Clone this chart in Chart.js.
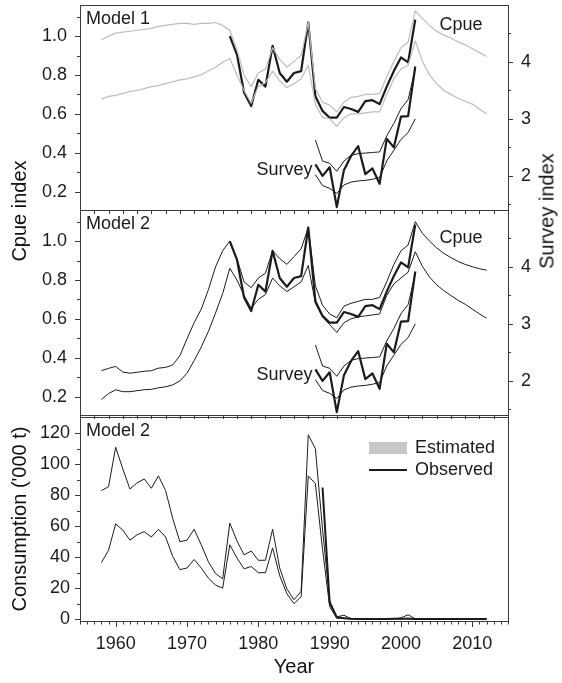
<!DOCTYPE html>
<html>
<head>
<meta charset="utf-8">
<script src="https://cdn.jsdelivr.net/npm/chart.js@4.4.0/dist/chart.umd.min.js"></script>
<style>
body { margin: 0; background: #fff; }
#wrap { position: relative; width: 562px; height: 683px; font-family: "Liberation Sans", Arial, sans-serif; color: #111; }
#wrap canvas { position: absolute; left: 0; top: 0; }
.ttl { position: absolute; font-size: 20px; white-space: nowrap; transform: translate(-50%, -50%); }
.rot { transform: translate(-50%, -50%) rotate(-90deg); }
</style>
</head>
<body>
<div id="wrap">
  <canvas id="p1" width="562" height="683"></canvas>
  <canvas id="p2" width="562" height="683"></canvas>
  <canvas id="p3" width="562" height="683"></canvas>
  <div class="ttl rot" style="left:19px;top:211px">Cpue index</div>
  <div class="ttl rot" style="left:547px;top:211px">Survey index</div>
  <div class="ttl rot" style="left:19px;top:519px">Consumption ('000 t)</div>
  <div class="ttl" style="left:294px;top:666px">Year</div>
</div>
<script>
// years of the model runs
var modelYears = [1958,1959,1960,1961,1962,1963,1964,1965,1966,1967,1968,1969,1970,1971,1972,1973,1974,1975,
  1976,1977,1978,1979,1980,1981,1982,1983,1984,1985,1986,1987,
  1988,1989,1990,1991,1992,1993,1994,1995,1996,1997,1998,1999,2000,2001,2002,
  2003,2004,2005,2006,2007,2008,2009,2010,2011,2012];
var cpueYears = [1976,1977,1978,1979,1980,1981,1982,1983,1984,1985,1986,1987,
  1988,1989,1990,1991,1992,1993,1994,1995,1996,1997,1998,1999,2000,2001,2002];
var surveyYears = [1988,1989,1990,1991,1992,1993,1994,1995,1996,1997,1998,1999,2000,2001,2002];
var consObsYears = [1989,1990,1991,1992,1993,1994,1995,1996,1997,1998,1999,2000,
  2001,2002,2003,2004,2005,2006,2007,2008,2009,2010,2011,2012];

// observed indices
var cpueObs = [1.00,0.905,0.71,0.64,0.775,0.74,0.95,0.81,0.765,0.81,0.82,1.07,
  0.69,0.615,0.58,0.58,0.635,0.625,0.61,0.665,0.67,0.65,0.74,0.82,0.89,0.865,1.085];
var surveyObs = [2.2,2.0,2.15,1.45,2.1,2.35,2.52,2.03,2.13,1.86,2.65,2.5,3.04,3.05,3.92];

// model 1 cpue interval
var m1Hi = [0.98,1.00,1.015,1.02,1.025,1.03,1.035,1.04,1.05,1.055,1.06,1.065,1.065,1.06,1.065,1.065,1.07,1.055,
  1.03,0.93,0.80,0.74,0.81,0.83,0.94,0.88,0.84,0.87,0.90,1.07,
  0.73,0.66,0.645,0.61,0.66,0.685,0.69,0.70,0.70,0.705,0.79,0.87,0.94,0.97,1.13,
  1.09,1.055,1.025,1.005,0.99,0.97,0.955,0.935,0.915,0.895];
var m1Lo = [0.675,0.69,0.695,0.705,0.715,0.72,0.73,0.74,0.745,0.755,0.765,0.775,0.78,0.79,0.80,0.82,0.84,0.865,
  0.885,0.80,0.72,0.655,0.74,0.76,0.82,0.77,0.735,0.755,0.78,0.85,
  0.65,0.58,0.575,0.535,0.58,0.60,0.60,0.605,0.61,0.61,0.70,0.78,0.83,0.85,0.975,
  0.87,0.80,0.755,0.72,0.70,0.68,0.665,0.65,0.625,0.60];

// model 2 cpue interval
var m2Hi = [0.333,0.345,0.355,0.326,0.32,0.325,0.33,0.333,0.346,0.35,0.363,0.41,0.497,0.58,0.65,0.75,0.867,0.95,
  1.00,0.91,0.79,0.76,0.81,0.835,0.95,0.91,0.88,0.92,0.96,1.07,
  0.77,0.67,0.625,0.605,0.665,0.68,0.69,0.70,0.70,0.71,0.79,0.88,0.95,0.98,1.10,
  1.04,1.00,0.965,0.937,0.915,0.895,0.88,0.868,0.858,0.85];
var m2Lo = [0.185,0.215,0.235,0.225,0.225,0.23,0.235,0.237,0.245,0.25,0.26,0.28,0.32,0.385,0.455,0.535,0.63,0.73,
  0.86,0.80,0.72,0.655,0.70,0.725,0.81,0.77,0.74,0.765,0.79,0.875,
  0.68,0.61,0.57,0.53,0.58,0.60,0.61,0.615,0.62,0.625,0.72,0.78,0.81,0.84,0.945,
  0.87,0.815,0.775,0.745,0.72,0.695,0.675,0.65,0.625,0.603];

// survey interval (both models)
var surveyHi = [2.63,2.26,2.22,2.08,2.26,2.36,2.39,2.40,2.41,2.42,2.70,2.92,3.18,3.34,3.88];
var surveyLo = [2.02,1.83,1.78,1.69,1.84,1.89,1.91,1.92,1.94,1.97,2.26,2.45,2.64,2.76,3.0];

// consumption, '000 t
var consHi = [83,85.5,111,97,84,88,90.5,84.5,92.5,83,65,50,51,58,48,37,29.5,26,62,50.5,
  41.5,44,38,38,58,33,19.5,12.5,18,119,110,58,12,1.5,2.5,0.3,0.2,0.2,0.3,0.2,
  0.2,0.3,0.8,2.8,0.2,0.2,0.2,0.2,0.2,0.2,0.2,0.2,0.2,0.2,0.2];
var consLo = [36.5,44.5,61.5,57.5,51,54.5,56.5,53,58,53,40.5,32,33,38.5,33,26.5,22,20,48,39.5,
  32.5,34,30,30,46,28,16.5,10,14.5,92.5,87.5,45,8,0.5,0.8,0.1,0.1,0.1,0.1,0.1,
  0.1,0.1,0.2,0.6,0.1,0.1,0.1,0.1,0.1,0.1,0.1,0.1,0.1,0.1,0.1];
var consObs = [85,10.5,1.2,0.6,0.2,0.1,0.1,0.1,0.1,0.1,0.2,0.3,0.2,0.1,0.1,0.1,0.1,0.1,0.1,0.1,0.1,0.1,0.1,0.1];

// tick labels and tick marks
var yearLabels = [1960,1970,1980,1990,2000,2010];
var yearMinor = [1955,1956,1957,1958,1959,1961,1962,1963,1964,1965,1966,1967,1968,1969,1971,1972,1973,1974,1975,1976,
  1977,1978,1979,1981,1982,1983,1984,1985,1986,1987,1988,1989,1991,1992,1993,1994,1995,1996,1997,1998,1999,
  2001,2002,2003,2004,2005,2006,2007,2008,2009,2011,2012,2013,2014,2015];
var yearBoundary = [1955,1957,1959,1961,1963,1965,1967,1969,1971,1973,1975,1977,1979,1981,1983,1985,1987,
  1989,1991,1993,1995,1997,1999,2001,2003,2005,2007,2009,2011,2013,2015];
var cpueLabels = [0.2,0.4,0.6,0.8,1.0];
var cpueMinor = [0.3,0.5,0.7,0.9,1.1];
var surveyLabels = [2,3,4];
var surveyMinor = [1.5,2.5,3.5,4.5];
var consLabels = [0,20,40,60,80,100,120];
var consMinor = [10,30,50,70,90,110];

var INK = '#1b1b1b';
var AXIS = '#3a3a3a';
Chart.defaults.font.family = "'Liberation Sans', Arial, sans-serif";
Chart.defaults.font.size = 18;
Chart.defaults.color = INK;

function pts(xs, ys) {
  return xs.map(function (x, i) { return { x: x, y: ys[i] }; });
}
function line(data, color, width, axis) {
  return { data: data, borderColor: color, borderWidth: width, pointRadius: 0,
    tension: 0, fill: false, yAxisID: axis || 'y', borderJoinStyle: 'round' };
}
function fixedTicks(list) {
  return function (s) { s.ticks = list.map(function (v) { return { value: v }; }); };
}

// frame, tick marks, inside labels and legend
var decor = {
  id: 'decor',
  afterDraw: function (chart, args, o) {
    var ctx = chart.ctx, a = chart.chartArea, sc = chart.scales;
    ctx.save();
    ctx.strokeStyle = AXIS;
    ctx.lineWidth = 1;
    ctx.strokeRect(Math.round(a.left) + 0.5, Math.round(a.top) + 0.5,
      Math.round(a.right - a.left), Math.round(a.bottom - a.top));
    (o.marks || []).forEach(function (m) {
      var s = sc[m.scale];
      m.values.forEach(function (v) {
        var p = Math.round(s.getPixelForValue(v)) + 0.5;
        var len = m.len;
        ctx.beginPath();
        if (m.side === 'left') { ctx.moveTo(a.left, p); ctx.lineTo(a.left - len, p); }
        else if (m.side === 'right') { ctx.moveTo(a.right, p); ctx.lineTo(a.right + len, p); }
        else { ctx.moveTo(p, a.bottom); ctx.lineTo(p, a.bottom + len); }
        ctx.stroke();
      });
    });
    ctx.fillStyle = INK;
    ctx.font = "18px 'Liberation Sans', Arial, sans-serif";
    ctx.textBaseline = 'middle';
    ctx.textAlign = 'left';
    ctx.fillText(o.title, a.left + 6, a.top + 14);
    (o.notes || []).forEach(function (n) {
      ctx.textAlign = n.align;
      ctx.fillText(n.text, sc.x.getPixelForValue(n.x), sc[n.axis].getPixelForValue(n.y));
    });
    if (o.legend) {
      var lx = a.right - 139;
      ctx.fillStyle = '#c8c8c8';
      ctx.fillRect(lx, a.top + 25, 38, 12);
      ctx.strokeStyle = INK;
      ctx.lineWidth = 2;
      ctx.beginPath();
      ctx.moveTo(lx, a.top + 53);
      ctx.lineTo(lx + 38, a.top + 53);
      ctx.stroke();
      ctx.fillStyle = INK;
      ctx.textAlign = 'left';
      ctx.fillText('Estimated', lx + 46, a.top + 31);
      ctx.fillText('Observed', lx + 46, a.top + 53);
    }
    ctx.restore();
  }
};

function xScale(show) {
  return {
    type: 'linear', min: 1955, max: 2015, display: show,
    grid: { display: false }, border: { display: false },
    afterBuildTicks: fixedTicks(yearLabels),
    afterFit: function (s) { s.height = show ? 62 : 0; s.paddingLeft = 0; s.paddingRight = 0; },
    ticks: { padding: 4, maxRotation: 0, autoSkip: false, callback: function (v) { return String(v); } }
  };
}
function leftScale(min, max, labels, digits, pad) {
  return {
    type: 'linear', position: 'left', min: min, max: max,
    grid: { display: false }, border: { display: false },
    afterBuildTicks: fixedTicks(labels),
    afterFit: function (s) { s.width = 80; s.paddingTop = 0; s.paddingBottom = 0; },
    ticks: { padding: pad, callback: function (v) { return v.toFixed(digits); } }
  };
}
function surveyScale() {
  return {
    type: 'linear', position: 'right', min: 1.4, max: 5.0,
    grid: { display: false }, border: { display: false },
    afterBuildTicks: fixedTicks(surveyLabels),
    afterFit: function (s) { s.width = 54; s.paddingTop = 0; s.paddingBottom = 0; },
    ticks: { padding: 5, callback: function (v) { return String(v); } }
  };
}

function cpuePanel(id, top, name, hi, lo, bandColor, bandWidth, cpueNoteY) {
  new Chart(document.getElementById(id), {
    type: 'line',
    data: { datasets: [
      line(pts(modelYears, hi), bandColor, bandWidth),
      line(pts(modelYears, lo), bandColor, bandWidth),
      line(pts(cpueYears, cpueObs), INK, 2.2),
      line(pts(surveyYears, surveyHi), INK, 1, 'y2'),
      line(pts(surveyYears, surveyLo), INK, 1, 'y2'),
      line(pts(surveyYears, surveyObs), INK, 2.2, 'y2')
    ] },
    options: {
      responsive: false, animation: false, events: [],
      layout: { padding: { top: top, bottom: 683 - (top + 205), left: 0, right: 0 } },
      scales: { x: xScale(false), y: leftScale(0.105, 1.16, cpueLabels, 1, 5), y2: surveyScale() },
      plugins: {
        legend: { display: false }, tooltip: { enabled: false },
        decor: {
          title: name,
          notes: [
            { text: 'Cpue', x: 2008.4, y: cpueNoteY, axis: 'y', align: 'center' },
            { text: 'Survey', x: 1987.6, y: 2.1, axis: 'y2', align: 'right' }
          ],
          marks: [
            { scale: 'y', side: 'left', values: cpueLabels, len: 5 },
            { scale: 'y', side: 'left', values: cpueMinor, len: 3 },
            { scale: 'y2', side: 'right', values: surveyLabels, len: 5 },
            { scale: 'y2', side: 'right', values: surveyMinor, len: 3 },
            { scale: 'x', side: 'bottom', values: yearBoundary, len: 4 }
          ]
        }
      }
    },
    plugins: [decor]
  });
}

cpuePanel('p1', 5, 'Model 1', m1Hi, m1Lo, '#bdbdbd', 1.2, 1.057);
cpuePanel('p2', 210, 'Model 2', m2Hi, m2Lo, INK, 1, 1.017);

new Chart(document.getElementById('p3'), {
  type: 'line',
  data: { datasets: [
    line(pts(modelYears, consHi), INK, 1),
    line(pts(modelYears, consLo), INK, 1),
    line(pts(consObsYears, consObs), INK, 2)
  ] },
  options: {
    responsive: false, animation: false, events: [],
    layout: { padding: { top: 417, bottom: 0, left: 0, right: 54 } },
    scales: { x: xScale(true), y: leftScale(-1.2, 130.5, consLabels, 0, 2) },
    plugins: {
      legend: { display: false }, tooltip: { enabled: false },
      decor: {
        title: 'Model 2',
        legend: true,
        marks: [
          { scale: 'y', side: 'left', values: consLabels, len: 5 },
          { scale: 'y', side: 'left', values: consMinor, len: 3 },
          { scale: 'x', side: 'bottom', values: yearLabels, len: 6 },
          { scale: 'x', side: 'bottom', values: yearMinor, len: 3.5 }
        ]
      }
    }
  },
  plugins: [decor]
});
</script>
</body>
</html>
